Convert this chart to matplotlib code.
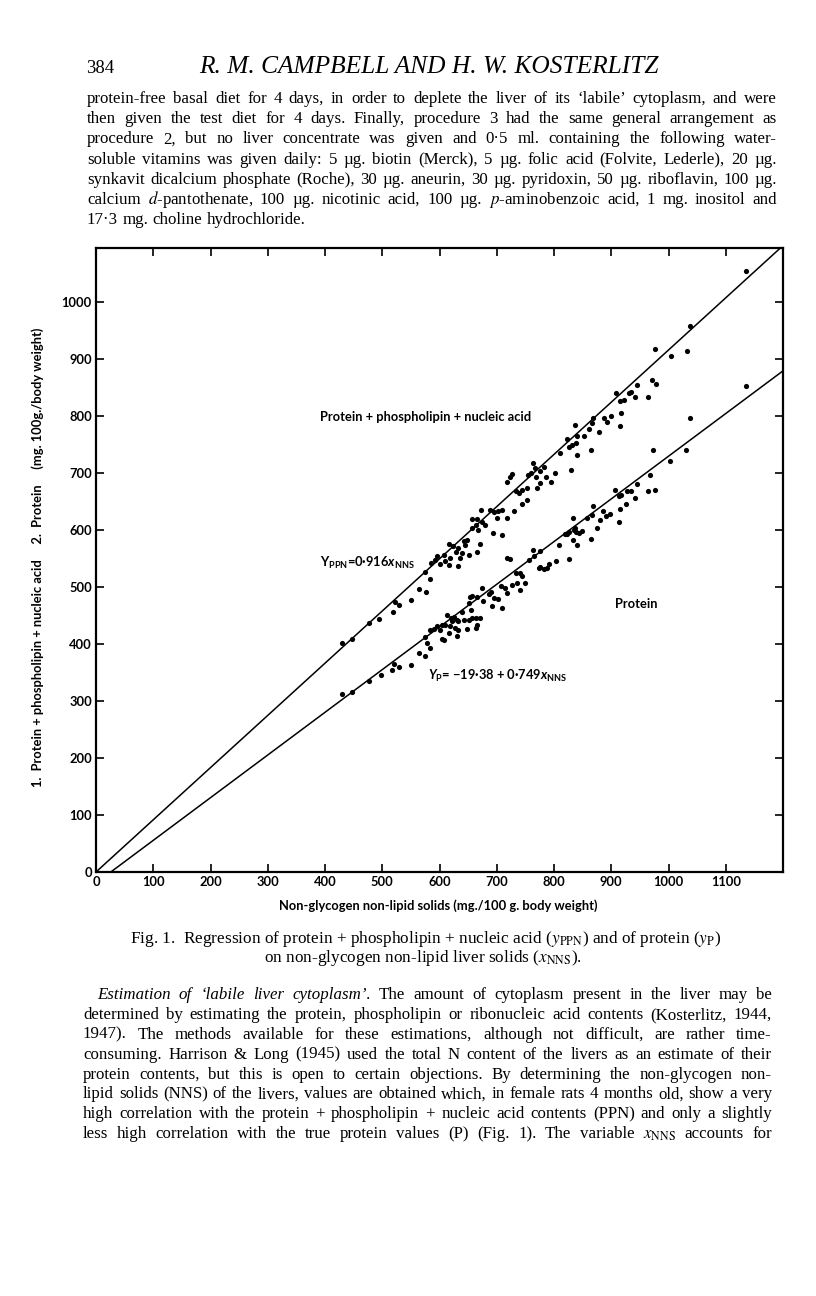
import matplotlib
matplotlib.use('Agg')
import matplotlib.pyplot as plt

# ---- data ----
# protein + phospholipin + nucleic acid (upper cloud)
ppn_x = [430, 447, 476, 495, 519, 523, 530, 551, 565, 576, 575, 584, 586, 593, 596, 601, 607, 610,
         616, 619, 633, 628, 633, 639, 645, 651, 666, 616, 624,
         642, 648, 636, 670, 657, 666, 657, 663, 667, 674, 680, 672, 689, 695, 700, 703, 709, 718,
         693, 710, 718, 724, 727, 731, 734, 739, 744, 752, 754, 759, 744, 753, 763, 766, 769, 775,
         770, 776, 783, 786, 794, 802, 810, 822, 830, 832, 838, 840, 840, 852,
         826, 836, 862, 867, 868, 865, 879, 887, 892, 899, 909, 916, 922, 917, 916, 931, 934, 942,
         945, 964, 972, 978, 976, 1005, 1032, 1038, 1135]
ppn_y = [402, 409, 437, 444, 456, 474, 469, 477, 497, 492, 527, 514, 543, 548, 555, 541, 557, 545,
         539, 551, 537, 562, 568, 560, 574, 557, 561, 576, 572,
         580, 583, 551, 575, 619, 619, 603, 609, 600, 615, 609, 636, 636, 632, 621, 634, 636, 621,
         595, 591, 685, 694, 699, 633, 668, 665, 671, 674, 696, 700, 645, 653, 717, 709, 694, 703,
         674, 682, 711, 694, 684, 701, 735, 759, 706, 750, 753, 765, 731, 765,
         745, 785, 778, 788, 797, 741, 772, 797, 789, 800, 840, 826, 828, 806, 783, 841, 843, 833,
         854, 833, 864, 857, 917, 906, 915, 959, 1054]

# protein (lower cloud)
p_x = [430, 447, 476, 497, 517, 521, 530, 550, 565, 575, 578, 583, 574, 584, 590, 596, 604, 601,
       610, 619, 621, 630, 633, 648, 639, 651, 655, 663, 665, 654, 666,
       604, 613, 620, 626, 633, 643, 652, 657, 670, 663, 627, 630, 616, 607, 657, 674, 676, 686,
       692, 690, 696, 703, 709, 708, 715, 718, 727, 736, 740, 744, 741, 750, 724, 773, 788, 803,
       718, 733, 756, 765, 763, 775, 776, 782, 791, 808, 822, 827, 834, 837, 839, 840, 858,
       820, 827, 834, 835, 844, 849, 865, 867, 868, 875, 881, 886, 890, 897, 906, 914, 916, 913,
       917, 925, 927, 934, 941, 945, 964, 967, 977, 973, 1002, 1031, 1037, 1136]
p_y = [313, 315, 336, 346, 354, 365, 360, 364, 384, 379, 402, 393, 412, 424, 427, 432, 408, 425,
       434, 431, 441, 443, 425, 426, 457, 472, 460, 445, 434, 483, 482,
       434, 451, 445, 448, 440, 442, 443, 445, 446, 428, 428, 415, 419, 407, 485, 498, 475, 487,
       466, 492, 480, 479, 463, 501, 498, 489, 504, 507, 525, 520, 495, 507, 550, 533, 533, 545,
       551, 525, 548, 554, 565, 563, 536, 532, 541, 574, 594, 549, 621, 603, 597, 574, 621,
       593, 596, 583, 601, 595, 598, 584, 627, 642, 603, 618, 633, 624, 628, 671, 614, 637, 659,
       662, 645, 668, 669, 657, 680, 669, 696, 671, 740, 721, 740, 796, 853]

# regression lines as printed on the figure
ppn_slope = 0.916
p_intercept, p_slope = -19.38, 0.749
line_x_max = 1200

x_ticks = list(range(0, 1200, 100))
y_ticks = list(range(0, 1100, 100))

header_num = "384"
header_title = "R. M. CAMPBELL AND H. W. KOSTERLITZ"
top_lines = [
    "protein-free basal diet for 4 days, in order to deplete the liver of its \u2018labile\u2019 cytoplasm, and were",
    "then given the test diet for 4 days.  Finally, procedure 3 had the same general arrangement as",
    "procedure 2, but no liver concentrate was given and 0\u00b75 ml. containing the following water-",
    "soluble vitamins was given daily: 5 \u00b5g. biotin (Merck), 5 \u00b5g. folic acid (Folvite, Lederle), 20 \u00b5g.",
    "synkavit dicalcium phosphate (Roche), 30 \u00b5g. aneurin, 30 \u00b5g. pyridoxin, 50 \u00b5g. riboflavin, 100 \u00b5g.",
    "calcium $d$-pantothenate, 100 \u00b5g. nicotinic acid, 100 \u00b5g. $p$-aminobenzoic acid, 1 mg. inositol and",
    "17\u00b73 mg. choline hydrochloride.",
]
caption_1 = "Fig. 1.  Regression of protein + phospholipin + nucleic acid ($y_{\\mathrm{PPN}}$) and of protein ($y_{\\mathrm{P}}$)"
caption_2 = "on non-glycogen non-lipid liver solids ($x_{\\mathrm{NNS}}$)."
bottom_lines = [
    "Estimation of \u2018labile liver cytoplasm\u2019. The amount of cytoplasm present in the liver may be",
    "determined by estimating the protein, phospholipin or ribonucleic acid contents (Kosterlitz, 1944,",
    "1947). The methods available for these estimations, although not difficult, are rather time-",
    "consuming. Harrison & Long (1945) used the total N content of the livers as an estimate of their",
    "protein contents, but this is open to certain objections. By determining the non-glycogen non-",
    "lipid solids (NNS) of the livers, values are obtained which, in female rats 4 months old, show a very",
    "high correlation with the protein + phospholipin + nucleic acid contents (PPN) and only a slightly",
    "less high correlation with the true protein values (P) (Fig. 1). The variable $x_{\\mathrm{NNS}}$ accounts for",
]

# ---- page ----
plt.rcParams['mathtext.fontset'] = 'custom'
plt.rcParams['mathtext.rm'] = 'Lato:bold'
plt.rcParams['mathtext.it'] = 'Lato:italic:bold'
plt.rcParams['mathtext.bf'] = 'Lato:bold'

FW, FH = 816, 1296
fig = plt.figure(figsize=(FW / 100, FH / 100), dpi=100)
fig.patch.set_facecolor('white')
renderer = fig.canvas.get_renderer()
serif = ['Liberation Serif', 'DejaVu Serif']
sans = ['Lato', 'DejaVu Sans']
BODY = 12.2
LAB = 9.3


def put_line(y, x0, x1, text, size, justify=True, n_italic=0):
    # y is the baseline in page pixels; words are spread to fill x0..x1
    words = text.split()
    arts = []
    for i, w in enumerate(words):
        arts.append(fig.text(0, 1 - y / FH, w, fontsize=size, family=serif,
                             style='italic' if i < n_italic else 'normal',
                             va='baseline', math_fontfamily='stix'))
    widths = [a.get_window_extent(renderer).width for a in arts]
    if justify and len(words) > 1:
        gap = max((x1 - x0 - sum(widths)) / (len(words) - 1), 2.0)
    else:
        gap = size * 0.25 * 100 / 72
    x = x0
    for a, w in zip(arts, widths):
        a.set_x(x / FW)
        x += w + gap


fig.text(86 / FW, 1 - 73 / FH, header_num, fontsize=13.5, family=serif, va='baseline')
title = fig.text(199 / FW, 1 - 73 / FH, header_title, fontsize=14, family=serif,
                 style='italic', va='baseline')
# scale the running head so it spans the same width as on the page
title.set_fontsize(14 * 460 / title.get_window_extent(renderer).width)

for i, line in enumerate(top_lines):
    last = i == len(top_lines) - 1
    put_line(103 + 20.2 * i, 87, 777, line, BODY, justify=not last)

fig.text(426 / FW, 1 - 943 / FH, caption_1, fontsize=12.4, family=serif, ha='center',
         va='baseline', math_fontfamily='stix')
fig.text(423 / FW, 1 - 962 / FH, caption_2, fontsize=12.4, family=serif, ha='center',
         va='baseline', math_fontfamily='stix')

for i, line in enumerate(bottom_lines):
    x0 = 97 if i == 0 else 83
    put_line(999 + 19.9 * i, x0, 772, line, BODY, n_italic=5 if i == 0 else 0)

# ---- chart ----
ax = fig.add_axes([96 / FW, 1 - 872 / FH, (783 - 96) / FW, (872 - 248) / FH])
ax.set_xlim(0, 1200)
ax.set_ylim(0, 1095)

ax.scatter(ppn_x, ppn_y, s=14, color='black', linewidths=0, zorder=3)
ax.scatter(p_x, p_y, s=14, color='black', linewidths=0, zorder=3)

ax.plot([0, line_x_max], [0, ppn_slope * line_x_max], color='black', lw=1.1)
x_start = -p_intercept / p_slope
ax.plot([x_start, line_x_max], [0, p_intercept + p_slope * line_x_max], color='black', lw=1.1)

ax.set_xticks(x_ticks)
ax.set_xticklabels([str(v) for v in x_ticks])
ax.set_yticks(y_ticks)
ax.set_yticklabels([str(v) for v in y_ticks])
ax.tick_params(direction='in', top=True, right=True, length=6, width=1.2, pad=3,
               labelsize=9.3)
for lab in ax.get_xticklabels() + ax.get_yticklabels():
    lab.set_family(sans)
    lab.set_fontweight('bold')
for s in ax.spines.values():
    s.set_linewidth(1.6)

ax.text(392, 799, "Protein + phospholipin + nucleic acid", family=sans, fontweight='bold',
        fontsize=LAB, va='center')
ax.text(392, 543, "$\\mathrm{Y}_{\\mathrm{PPN}}$=0\u00b7916$x_{\\mathrm{NNS}}$", family=sans,
        fontweight='bold', fontsize=LAB, va='center')
ax.text(906, 471, "Protein", family=sans, fontweight='bold', fontsize=LAB, va='center')
ax.text(580, 344, "$Y_{\\mathrm{P}}$= \u221219\u00b738 + 0\u00b7749$x_{\\mathrm{NNS}}$", family=sans,
        fontweight='bold', fontsize=LAB, va='center')

fig.text(438 / FW, 1 - 906 / FH, "Non-glycogen non-lipid solids (mg./100 g. body weight)",
         family=sans, fontweight='bold', fontsize=LAB, ha='center', va='center')
fig.text(38 / FW, 1 - 557 / FH,
         "1.  Protein + phospholipin + nucleic acid     2.  Protein     (mg. 100g./body weight)",
         family=sans, fontweight='bold', fontsize=LAB, ha='center', va='center', rotation=90)

fig.savefig('out.png', dpi=100)
